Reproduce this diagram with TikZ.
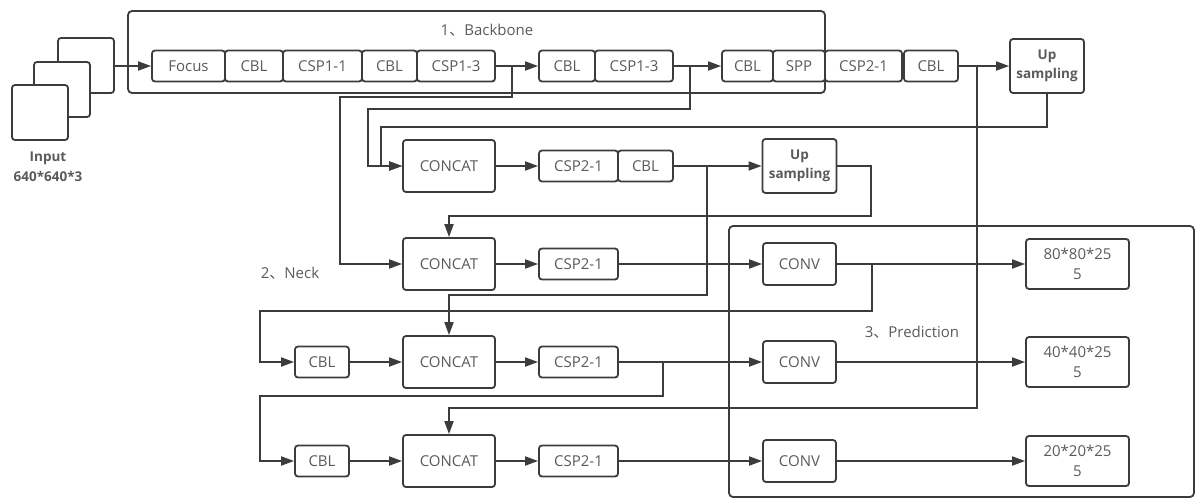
\documentclass[tikz,border=0pt]{standalone}
\usepackage{fontspec}
\setmainfont{Open Sans}
\newfontfamily\cjk{Noto Sans CJK SC}
\usetikzlibrary{arrows.meta}
\definecolor{lncol}{HTML}{3C3C3C}
\definecolor{txcol}{HTML}{5A5A5A}

\begin{document}
\begin{tikzpicture}[x=1pt,y=-1pt,
  every node/.style={font=\fontsize{15}{20}\selectfont,text=txcol},
  wire/.style={draw=lncol,line width=1.8pt},
  arr/.style={wire,-{Triangle[length=13pt,width=9pt]}},
  blk/.style={draw=lncol,line width=1.8pt,rounded corners=3pt,inner sep=0pt,align=center},
  sm/.style={blk,minimum height=31},
  cat/.style={blk,minimum width=92,minimum height=52},
  conv/.style={blk,minimum width=73,minimum height=42},
  outb/.style={blk,minimum width=103,minimum height=50},
  upb/.style={blk,minimum width=74,minimum height=54,font=\bfseries\fontsize{13.5}{19}\selectfont}]
\useasboundingbox (0,0) rectangle (1195,498);
% frames of the three parts
\draw[wire,rounded corners=4pt] (128,11) rectangle (825,93);
\draw[wire,rounded corners=4pt] (729,226) rectangle (1194,497);
\node (lbb) at (487,30) {1{\cjk 、}Backbone};
\node (lnk) at (290,273) {2{\cjk 、}Neck};
\node (lpr) at (912,332) {3{\cjk 、}Prediction};
% input stack
\foreach \n/\x/\y in {sq3/86/65.5,sq2/62/89.5,sq1/40/112.5}
  \node[blk,fill=white,minimum width=56,minimum height=55] (\n) at (\x,\y) {};
\node[align=center,font=\bfseries\fontsize{13.5}{20}\selectfont] (inp) at (48,167) {Input\\640*640*3};
% backbone row
\foreach \n/\x/\w/\t in {focus/188.5/73/Focus,cbla/254/58/CBL,csp11/322.5/79/CSP1-1,
    cblb/389.5/55/CBL,csp13a/456/78/CSP1-3,cblc/567/56/CBL,csp13b/634/78/CSP1-3,
    cbld/747.5/51/CBL,spp/799/52/SPP,csp21a/863.5/77/CSP2-1,cble/931/54/CBL}
  \node[sm,minimum width=\w] (\n) at (\x,66) {\t};
\node[upb] (up1) at (1047,66) {Up\\sampling};
\draw[arr] (sq3.east |- focus) -- (focus);
\draw[arr] (csp13a) -- (cblc);
\draw[arr] (csp13b) -- (cbld);
\draw[arr] (cble) -- (up1);
% neck, first row
\node[cat] (cat1) at (449,166) {CONCAT};
\node[sm,minimum width=79] (csp1) at (578.5,166) {CSP2-1};
\node[sm,minimum width=55] (cblf) at (645.5,166) {CBL};
\node[upb] (up2) at (799.5,166) {Up\\sampling};
\draw[arr] (cat1) -- (csp1);
\draw[arr] (cblf) -- (up2);
% other rows and prediction heads
\foreach \i/\y/\o in {2/264/80,3/362/40,4/461/20} {
  \node[cat] (cat\i) at (449,\y) {CONCAT};
  \node[sm,minimum width=79] (csp\i) at (578.5,\y) {CSP2-1};
  \node[conv] (conv\i) at (799.5,\y) {CONV};
  \node[outb] (out\i) at (1077.5,\y) {\o*\o*25\\5};
  \draw[arr] (cat\i) -- (csp\i);
  \draw[arr] (csp\i) -- (conv\i);
  \draw[arr] (conv\i) -- (out\i);
}
\foreach \i/\y in {3/362,4/461} {
  \node[sm,minimum width=54] (cbl\i) at (322,\y) {CBL};
  \draw[arr] (cbl\i) -- (cat\i);
}
% branch points
\coordinate (b1) at (512,66);
\coordinate (b2) at (690,66);
\coordinate (b3) at (977,66);
\coordinate (b4) at (707,166);
\coordinate (b5) at (872,264);
\coordinate (b6) at (663,362);
% skip connections
\draw[arr] (b1) |- (340,97) |- (cat2);
\draw[arr] (b2) |- (368,109) |- (cat1);
\draw[arr] (up1) |- (381,127) |- (cat1);
\draw[arr] (b3) -- (977,408) -| (cat4);
\draw[arr] (b4) -- (707,295) -| (cat3);
\draw[arr] (up2) -- (871,166) -- (871,216) -| (cat2);
\draw[arr] (b5) |- (260,311) |- (cbl3);
\draw[arr] (b6) |- (260,396) |- (cbl4);
\end{tikzpicture}
\end{document}
